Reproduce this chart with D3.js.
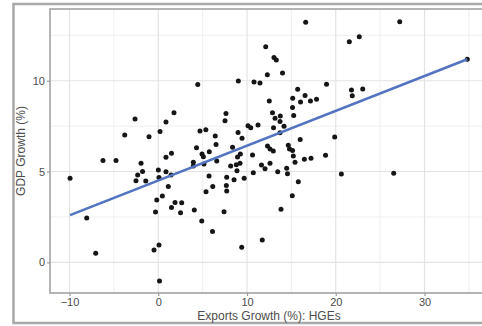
<!DOCTYPE html>
<html>
<head>
<meta charset="utf-8">
<script src="https://cdn.jsdelivr.net/npm/d3@7"></script>
<style>
  html, body { margin: 0; padding: 0; background: #fff; }
  svg { display: block; }
</style>
</head>
<body>
<svg id="chart" width="482" height="326"></svg>
<script>
// Exports growth (%) of HGEs
const exportsGrowth = [
  -9.94, -8.06, -7.05, -6.23, -4.76, -3.78, -2.62, -1.04, 0.20, -1.94,
  -1.77, -2.32, -2.51, -1.41, 0.01, 0.08, -0.17, -0.31, 0.08, -0.48,
  0.14, 0.87, 1.77, 0.87, 1.49, 0.87, 1.44, 1.13, 0.46, 1.89,
  2.64, 1.49, 2.51, 4.06, 4.90, 6.11, 4.45, 4.70, 5.36, 6.42,
  6.51, 4.31, 4.93, 5.08, 5.75, 3.95, 3.95, 5.15, 6.59, 5.72,
  6.14, 5.38, 7.71, 8.54, 7.67, 7.71, 7.41, 8.16, 8.79, 9.21,
  8.87, 7.63, 7.52, 9.02, 8.99, 8.37, 9.25, 8.93, 9.68, 9.40,
  9.44, 10.11, 10.42, 11.24, 10.62, 10.71, 10.79, 11.46, 11.63, 12.03,
  12.59, 13.46, 14.47, 14.56, 15.78, 15.10, 13.83, 11.72, 12.11, 13.04,
  13.30, 14.00, 12.29, 12.51, 12.87, 13.75, 13.16, 13.72, 12.99, 14.17,
  13.72, 12.31, 12.59, 12.96, 14.65, 14.79, 15.13, 15.22, 15.41, 16.46,
  17.21, 18.85, 15.71, 16.54, 15.15, 16.03, 17.15, 17.83, 15.13, 15.26,
  15.99, 16.61, 18.96, 19.88, 20.63, 21.77, 21.86, 23.04, 21.53, 22.65,
  27.21, 26.53, 34.82
];
// GDP growth (%)
const gdpGrowth = [
  4.63, 2.44, 0.50, 5.61, 5.61, 7.01, 7.89, 6.92, 7.20, 5.45,
  5.00, 4.81, 4.49, 4.48, 5.08, 4.67, 3.43, 2.77, 0.95, 0.68,
  -1.03, 7.73, 8.24, 5.78, 6.00, 4.99, 4.81, 4.17, 3.65, 3.30,
  3.28, 3.02, 2.73, 2.88, 2.27, 1.70, 9.79, 7.23, 7.30, 6.95,
  6.49, 6.31, 5.96, 5.81, 6.09, 5.51, 5.30, 5.41, 5.58, 4.75,
  4.17, 3.89, 4.68, 4.55, 4.23, 3.93, 2.79, 5.30, 5.37, 5.45,
  5.04, 8.20, 7.80, 9.98, 7.15, 6.33, 5.96, 5.80, 4.63, 0.83,
  6.83, 7.52, 7.41, 7.56, 5.91, 4.93, 9.93, 9.87, 5.36, 5.15,
  5.45, 4.99, 5.18, 4.88, 4.44, 3.66, 2.92, 1.23, 11.87, 11.28,
  11.14, 10.42, 10.33, 8.88, 8.24, 8.06, 7.93, 7.76, 7.41, 7.49,
  7.14, 6.40, 6.24, 6.13, 6.44, 6.24, 6.16, 5.85, 5.51, 5.67,
  5.73, 5.89, 9.53, 9.19, 9.03, 8.83, 8.88, 8.98, 8.52, 8.09,
  6.77, 13.22, 9.81, 6.90, 4.86, 9.49, 9.17, 9.54, 12.15, 12.42,
  13.25, 4.90, 11.18
];
// Linear fit (intercept, slope) as drawn in the reference
const fitCoef = [4.505, 0.1917];

const xTicks = [-10, 0, 10, 20, 30];
const xMinor = [-5, 5, 15, 25, 35];
const yTicks = [0, 5, 10];
const yMinor = [2.5, 7.5, 12.5];

const xTitle = "Exports Growth (%): HGEs";
const yTitle = "GDP Growth (%)";

const svg = d3.select("#chart");
const P = { left: 50, top: 9, right: 490, bottom: 293 };

const x = d3.scaleLinear().domain([-12.2, 37.38]).range([P.left, P.right]);
const y = d3.scaleLinear().domain([-1.69, 13.95]).range([P.bottom, P.top]);

// outer figure frame
svg.append("rect")
  .attr("x", 13.5).attr("y", 4).attr("width", 480).attr("height", 319)
  .attr("fill", "none").attr("stroke", "#a8a8a8").attr("stroke-width", 2.5);

// panel background
svg.append("rect")
  .attr("x", P.left).attr("y", P.top)
  .attr("width", P.right - P.left).attr("height", P.bottom - P.top)
  .attr("fill", "#fff");

const grid = svg.append("g");
grid.selectAll(".xmin").data(xMinor).join("line")
  .attr("x1", d => x(d)).attr("x2", d => x(d))
  .attr("y1", P.top).attr("y2", P.bottom)
  .attr("stroke", "#efefef").attr("stroke-width", 1);
grid.selectAll(".ymin").data(yMinor).join("line")
  .attr("y1", d => y(d)).attr("y2", d => y(d))
  .attr("x1", P.left).attr("x2", P.right)
  .attr("stroke", "#efefef").attr("stroke-width", 1);
grid.selectAll(".xmaj").data(xTicks).join("line")
  .attr("x1", d => x(d)).attr("x2", d => x(d))
  .attr("y1", P.top).attr("y2", P.bottom)
  .attr("stroke", "#e3e3e3").attr("stroke-width", 1.2);
grid.selectAll(".ymaj").data(yTicks).join("line")
  .attr("y1", d => y(d)).attr("y2", d => y(d))
  .attr("x1", P.left).attr("x2", P.right)
  .attr("stroke", "#e3e3e3").attr("stroke-width", 1.2);

// points
const pts = exportsGrowth.map((v, i) => ({ x: v, y: gdpGrowth[i] }));
svg.append("g").selectAll("circle").data(pts).join("circle")
  .attr("cx", d => x(d.x)).attr("cy", d => y(d.y))
  .attr("r", 2.5).attr("fill", "#151515");

// fit line
const xExt = d3.extent(exportsGrowth);
svg.append("line")
  .attr("x1", x(xExt[0])).attr("y1", y(fitCoef[0] + fitCoef[1] * xExt[0]))
  .attr("x2", x(xExt[1])).attr("y2", y(fitCoef[0] + fitCoef[1] * xExt[1]))
  .attr("stroke", "#5374c0").attr("stroke-width", 2.6)
  .attr("stroke-linecap", "butt");

// panel border
svg.append("rect")
  .attr("x", P.left).attr("y", P.top)
  .attr("width", P.right - P.left).attr("height", P.bottom - P.top)
  .attr("fill", "none").attr("stroke", "#9c9c9c").attr("stroke-width", 1.5);

// axes
const xAxis = d3.axisBottom(x).tickValues(xTicks).tickSize(3).tickPadding(2);
const yAxis = d3.axisLeft(y).tickValues(yTicks).tickSize(3).tickPadding(2);

const gx = svg.append("g").attr("transform", `translate(0,${P.bottom})`).call(xAxis);
const gy = svg.append("g").attr("transform", `translate(${P.left},0)`).call(yAxis);
[gx, gy].forEach(g => {
  g.select(".domain").remove();
  g.selectAll(".tick line").attr("stroke", "#9c9c9c").attr("stroke-width", 1.2);
  g.selectAll(".tick text")
    .attr("fill", "#4d4d4d")
    .attr("font-family", "Liberation Sans, Arial, sans-serif")
    .attr("font-size", 11);
});

// titles
svg.append("text")
  .attr("x", 269).attr("y", 320)
  .attr("text-anchor", "middle")
  .attr("font-family", "Liberation Sans, Arial, sans-serif")
  .attr("font-size", 12).attr("fill", "#4d4d4d")
  .text(xTitle);

svg.append("text")
  .attr("transform", `translate(25,${(P.top + P.bottom) / 2}) rotate(-90)`)
  .attr("text-anchor", "middle")
  .attr("font-family", "Liberation Sans, Arial, sans-serif")
  .attr("font-size", 12).attr("fill", "#4d4d4d")
  .text(yTitle);
</script>
</body>
</html>
